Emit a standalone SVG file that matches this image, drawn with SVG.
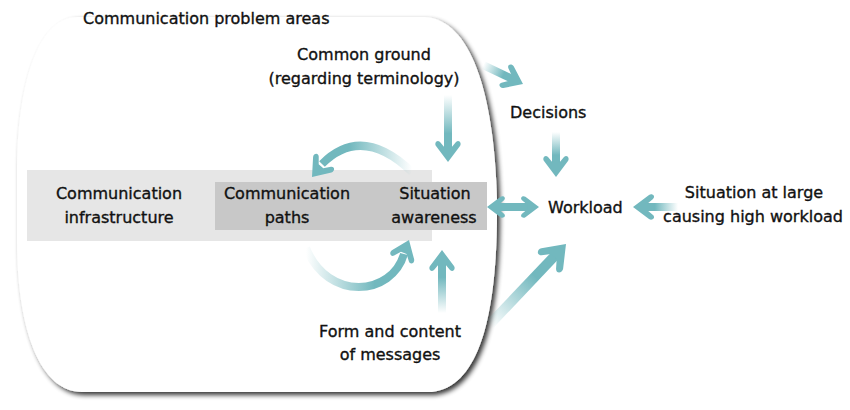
<svg xmlns="http://www.w3.org/2000/svg" xmlns:xlink="http://www.w3.org/1999/xlink" width="850" height="410" viewBox="0 0 850 410">
<style>
text{font-family:"DejaVu Sans","Liberation Sans",sans-serif;font-size:16px;fill:#111;stroke:#111;stroke-width:0.35;}
.c{text-anchor:middle;}
.solid{fill:#72b8be;}
.shaft{fill:url(#fade);}
</style>
<defs>
<filter id="sh" x="-5%" y="-5%" width="115%" height="115%">
<feGaussianBlur in="SourceAlpha" stdDeviation="2.5"/>
<feOffset dx="3" dy="3" result="b"/>
<feComponentTransfer><feFuncA type="linear" slope="0.8"/></feComponentTransfer>
<feMerge><feMergeNode/><feMergeNode in="SourceGraphic"/></feMerge>
</filter>
<linearGradient id="fade" x1="0" y1="0" x2="1" y2="0">
<stop offset="0" stop-color="#72b8be" stop-opacity="0"/>
<stop offset="0.7" stop-color="#72b8be" stop-opacity="1"/>
</linearGradient>
<linearGradient id="fadeL" x1="1" y1="0" x2="0" y2="0">
<stop offset="0" stop-color="#72b8be" stop-opacity="0"/>
<stop offset="0.7" stop-color="#72b8be" stop-opacity="1"/>
</linearGradient>
<path id="head" d="M0,0 L-16,-12 C-19,-14 -23,-11 -20,-8 L-14,-3 L-14,3 L-20,8 C-23,11 -19,14 -16,12 Z"/>
</defs>
<rect width="850" height="410" fill="#fff"/>
<g id="problem-areas">
<path d="M78,17 L425,17 C470,20 494,90 497,200 C498,300 484,386 432,392 L82,392 C40,392 17,330 17,240 L17,170 C17,90 36,17 78,17 Z" fill="#fff" filter="url(#sh)"/>
<text x="83" y="24">Communication problem areas</text>
</g>
<g id="infrastructure">
<rect x="27" y="170" width="405" height="71" fill="#e6e6e6"/>
<text class="c" x="119" y="199">Communication</text>
<text class="c" x="119" y="223">infrastructure</text>
</g>
<g id="paths">
<rect x="215" y="182" width="272" height="48" fill="#c8c8c8"/>
<text class="c" x="287" y="199">Communication</text>
<text class="c" x="287" y="223">paths</text>
</g>
<g id="awareness">
<text class="c" x="435" y="199">Situation</text>
<text class="c" x="434" y="223">awareness</text>
</g>
<g id="common-ground">
<text class="c" x="364" y="60">Common ground</text>
<text class="c" x="364" y="84">(regarding terminology)</text>
</g>
<g id="decisions"><text x="510" y="118">Decisions</text></g>
<g id="workload"><text x="548" y="213">Workload</text></g>
<g id="situation-large">
<text class="c" x="754" y="198">Situation at large</text>
<text class="c" x="753" y="222">causing high workload</text>
</g>
<g id="form-content">
<text class="c" x="390" y="337">Form and content</text>
<text class="c" x="390" y="360">of messages</text>
</g>
<g id="connectors">
<g transform="translate(448,162) rotate(90)"><rect class="shaft" x="-67" y="-4" width="55" height="8"/><use href="#head" class="solid"/></g>
<g transform="translate(442,250) rotate(-90)"><rect class="shaft" x="-63" y="-4" width="51" height="8"/><use href="#head" class="solid"/></g>
<path d="M412,172 Q362,124 322,164" fill="none" stroke="url(#fadeL)" stroke-width="8"/>
<use href="#head" class="solid" transform="translate(312,177) rotate(130)"/>
<path d="M306,248 C328,302 392,296 404,254" fill="none" stroke="url(#fade)" stroke-width="8"/>
<use href="#head" class="solid" transform="translate(409,240) rotate(-68)"/>
<rect class="solid" x="498" y="203" width="30" height="8"/>
<use href="#head" class="solid" transform="translate(487,207) rotate(180) scale(0.85)"/>
<use href="#head" class="solid" transform="translate(539,207) scale(0.85)"/>
<g transform="translate(523,84) rotate(25.4)"><rect class="shaft" x="-44" y="-4" width="32" height="8"/><use href="#head" class="solid"/></g>
<g transform="translate(556,177) rotate(90)"><rect class="shaft" x="-45" y="-4" width="33" height="8"/><use href="#head" class="solid"/></g>
<g transform="translate(633,207) rotate(180)"><rect class="shaft" x="-45" y="-4" width="33" height="8"/><use href="#head" class="solid"/></g>
<g transform="translate(566,244) rotate(-46.5)"><rect class="shaft" x="-112" y="-5" width="96" height="10"/><use href="#head" class="solid" transform="scale(1.25)"/></g>
</g>
</svg>
